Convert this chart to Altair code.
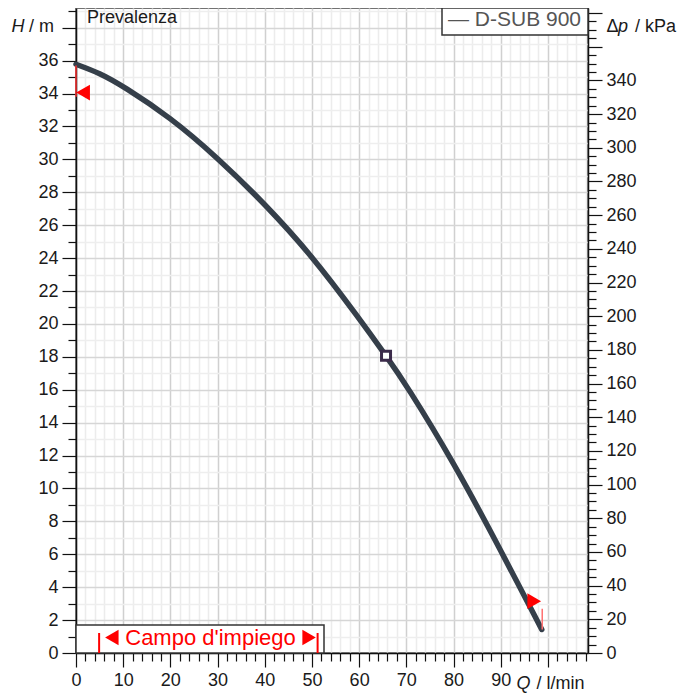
import altair as alt
import pandas as pd

# ---- data ----
Q = [0, 5, 10, 20, 30, 40, 50, 60, 65.7, 70, 80, 90, 98.7]
H = [35.78, 35.25, 34.45, 32.55, 30.1, 27.3, 24.15, 20.34, 18.06, 16.3, 11.6, 6.25, 1.43]
duty_Q = [65.7]
duty_H = [18.06]
lim_left_Q = [0]
lim_left_H = [33.8, 35.7]
tri_left_Q = [1.5]
tri_left_H = [34.06]
lim_right_Q = [98.8]
lim_right_H = [1.43, 2.69]
tri_right_Q = [97.1]
tri_right_H = [3.15]
campo = [4.9, 51.2]

x_ticks = list(range(0, 109, 2))
y_ticks = [i * 0.5 for i in range(0, 79)]
kpa_ticks = list(range(0, 381, 5))

X_MAX = 108.5
H_MAX = 39.2
KPA_MAX = 383.0
FONT = "Liberation Sans"
W, HGT = 512, 645

curve_df = pd.DataFrame({"Q": Q, "H": H})
duty_df = pd.DataFrame({"Q": duty_Q, "H": duty_H})
llim_df = pd.DataFrame({"Q": lim_left_Q, "H1": [lim_left_H[0]], "H2": [lim_left_H[1]]})
rlim_df = pd.DataFrame({"Q": lim_right_Q, "H1": [lim_right_H[0]], "H2": [lim_right_H[1]]})
tl_df = pd.DataFrame({"Q": tri_left_Q, "H": tri_left_H})
tr_df = pd.DataFrame({"Q": tri_right_Q, "H": tri_right_H})
campo_df = pd.DataFrame({"Q": campo})

xscale = alt.Scale(domain=[0, X_MAX], nice=False, zero=False)
yscale = alt.Scale(domain=[0, H_MAX], nice=False, zero=False)

common_axis = dict(
    labelFont=FONT, labelFontSize=18, labelColor="#1a1a1a",
    labelFlush=False, labelOverlap=False, labelBound=False,
    domainColor="#111", domainWidth=1.5, tickColor="#111", tickWidth=1.2,
    title=None, format="d",
)

x_axis = alt.Axis(
    values=x_ticks, orient="bottom",
    tickSize={"condition": {"test": "datum.value % 10 === 0", "value": 14}, "value": 8},
    labelExpr="(datum.value % 10 === 0 && datum.value <= 90) ? datum.label : ''",
    labelPadding=4,
    grid=True,
    gridColor={"condition": {"test": "datum.value % 10 === 0", "value": "#d0d0d0"}, "value": "#ececec"},
    gridWidth=1.5,
    **common_axis,
)
y_axis = alt.Axis(
    values=y_ticks, orient="left",
    tickSize={"condition": {"test": "datum.value % 2 === 0", "value": 14}, "value": 8},
    labelExpr="(datum.value % 2 === 0 && datum.value <= 36) ? datum.label : ''",
    labelPadding=4,
    grid=True,
    gridColor={"condition": {"test": "datum.value % 2 === 0", "value": "#d6d6d6"}, "value": "#eeeeee"},
    gridWidth=1.5,
    **common_axis,
)
kpa_axis = alt.Axis(
    values=kpa_ticks, orient="right",
    tickSize={"condition": {"test": "datum.value % 20 === 0", "value": 14}, "value": 8},
    labelExpr="(datum.value % 20 === 0 && datum.value <= 340) ? datum.label : ''",
    labelPadding=4,
    grid=False,
    **common_axis,
)

X = alt.X("Q:Q", scale=xscale, axis=x_axis)
Y = alt.Y("H:Q", scale=yscale, axis=y_axis)


def one():
    return alt.Chart(alt.Data(values=[{"a": 1}]))


def txt(text, x, y, size=18, style="normal", align="left", color="#1a1a1a"):
    return one().mark_text(
        font=FONT, fontSize=size, fontStyle=style, align=align, baseline="middle", color=color
    ).encode(x=alt.value(x), y=alt.value(y), text=alt.value(text))


# boxes
legend_box = one().mark_rect(fill="white", stroke="#333", strokeWidth=1.5).encode(
    x=alt.value(366), x2=alt.value(W), y=alt.value(0), y2=alt.value(27)
)
campo_box = one().mark_rect(fill="white", stroke="#333", strokeWidth=1.5).encode(
    x=alt.value(0), x2=alt.value(248), y=alt.value(617), y2=alt.value(HGT)
)
campo_bars = alt.Chart(campo_df).mark_rule(color="#ff0000", strokeWidth=2).encode(
    x=X, y=alt.value(625), y2=alt.value(HGT)
)
campo_tri_l = alt.Chart(campo_df.iloc[[0]]).transform_calculate(q="datum.Q + 2.7").mark_point(
    shape="triangle-left", filled=True, color="#ff0000", size=240, opacity=1
).encode(x=alt.X("q:Q", scale=xscale, axis=x_axis), y=alt.value(629.5))
campo_tri_r = alt.Chart(campo_df.iloc[[1]]).transform_calculate(q="datum.Q - 1.8").mark_point(
    shape="triangle-right", filled=True, color="#ff0000", size=240, opacity=1
).encode(x=alt.X("q:Q", scale=xscale, axis=x_axis), y=alt.value(629.5))

curve = alt.Chart(curve_df).mark_line(
    color="#353f4a", strokeWidth=5.5, interpolate="basis", strokeCap="round"
).encode(x=X, y=Y)

duty = alt.Chart(duty_df).mark_point(
    shape="square", filled=False, fill="white", fillOpacity=1, stroke="#3b2a4a",
    strokeWidth=3, size=81, opacity=1
).encode(x=X, y=Y)

llim = alt.Chart(llim_df).mark_rule(color="#ff3030", strokeWidth=1.5).encode(
    x=X, y=alt.Y("H1:Q", scale=yscale, axis=y_axis), y2="H2:Q"
)
rlim = alt.Chart(rlim_df).mark_rule(color="#ff7070", strokeWidth=1.5).encode(
    x=X, y=alt.Y("H1:Q", scale=yscale, axis=y_axis), y2="H2:Q"
)
tl = alt.Chart(tl_df).mark_point(
    shape="triangle-left", filled=True, color="#ff0000", size=250, opacity=1
).encode(x=X, y=Y)
tr = alt.Chart(tr_df).mark_point(
    shape="triangle-right", filled=True, color="#ff0000", size=250, opacity=1
).encode(x=X, y=Y)

texts = [
    txt("Prevalenza", 11, 10, size=18),
    txt("\u2014 D-SUB 900", 372, 12, size=21, color="#555555"),
    txt("Campo d'impiego", 134.5, 630, size=22, align="center", color="#ff0000"),
    txt("H", -64.5, 19, size=18, style="italic"),
    txt("/ m", -47, 19, size=18),
    txt("\u0394", 530.5, 19, size=18),
    txt("p", 542, 19, size=18, style="italic"),
    txt("/ kPa", 559, 19, size=18),
    txt("Q", 440.5, 676, size=18, style="italic"),
    txt("/ l/min", 460.5, 676, size=18),
]

main = alt.layer(
    curve, campo_box, campo_bars, campo_tri_l, campo_tri_r, legend_box,
    llim, rlim, duty, tl, tr, *texts
)

kpa_layer = alt.Chart(curve_df).transform_calculate(dp="datum.H * 9.807").mark_line(opacity=0).encode(
    x=X,
    y=alt.Y("dp:Q", scale=alt.Scale(domain=[0, KPA_MAX], nice=False, zero=False), axis=kpa_axis),
)

chart = alt.layer(main, kpa_layer).resolve_scale(y="independent").properties(
    width=W, height=HGT, autosize="none",
    padding={"left": 68, "top": 0, "right": 92, "bottom": 42},
    background="white",
).configure_view(stroke="#444", strokeWidth=1.5)

chart.save("out.html", embed_options={"renderer": "svg", "actions": False})
